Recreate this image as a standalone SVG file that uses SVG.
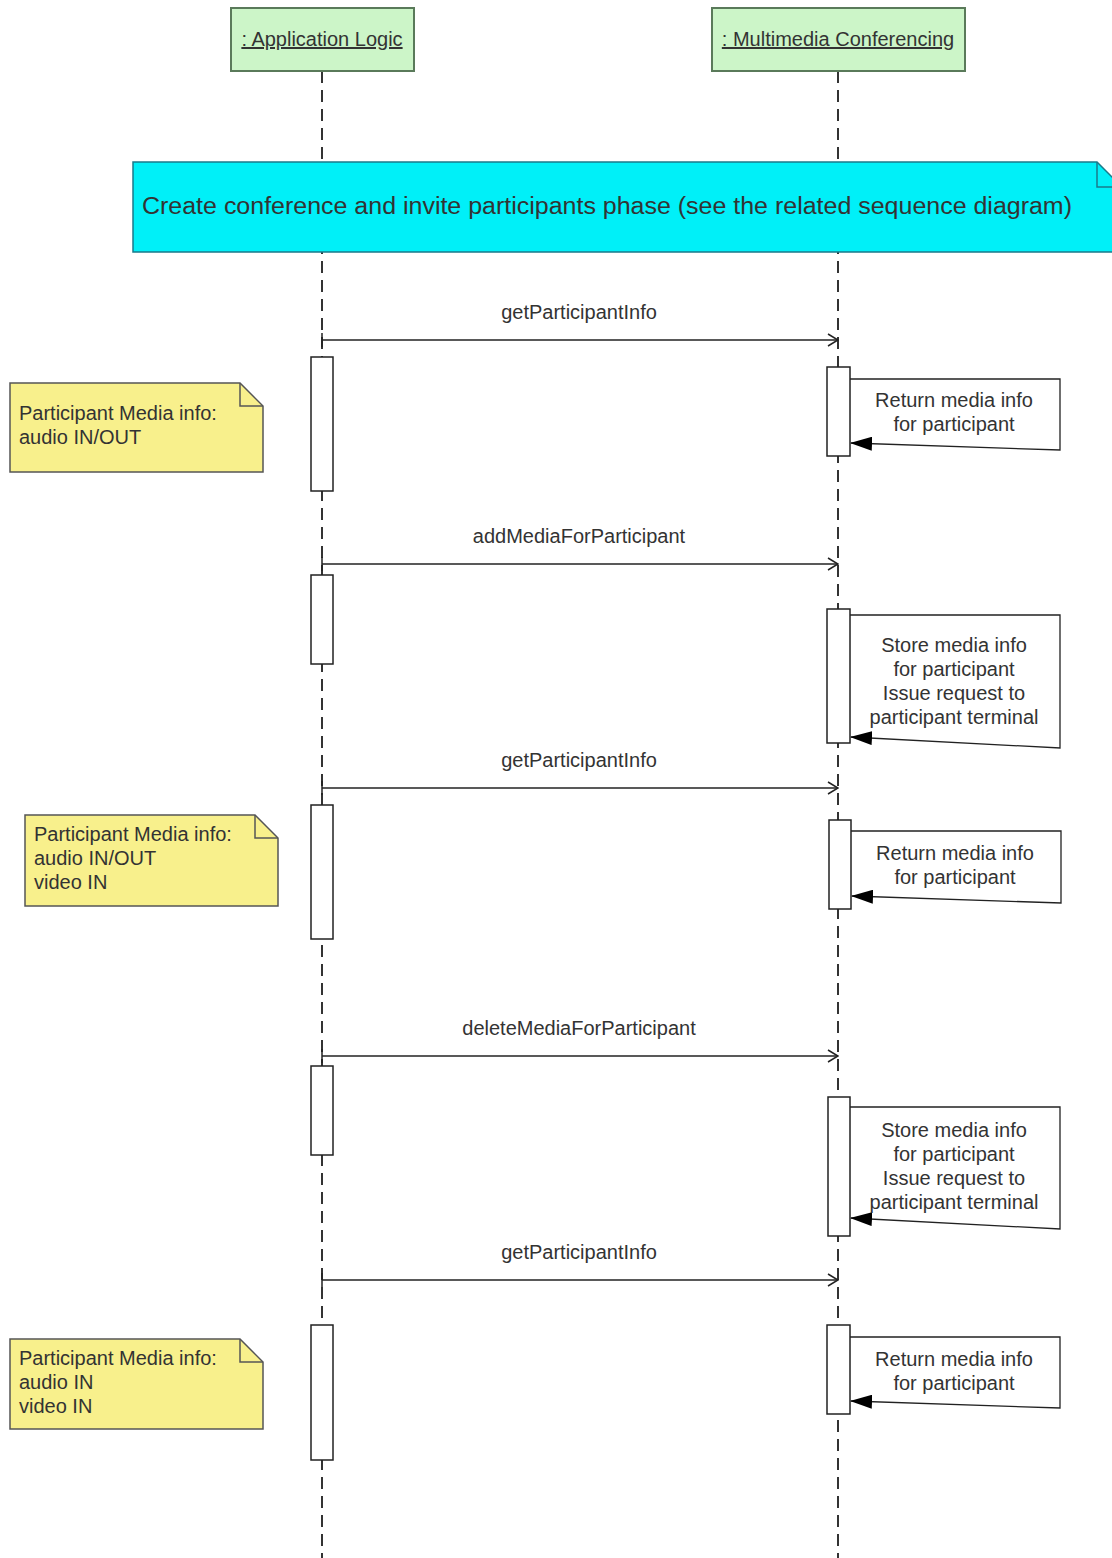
<svg xmlns="http://www.w3.org/2000/svg" width="1112" height="1558" viewBox="0 0 1112 1558">
<style>
text{font-family:"Liberation Sans",Arial,sans-serif;fill:#333}
.hdr{fill:#ccf5c8;stroke:#5a7a5a;stroke-width:2}
.hdrt{font-size:20px;text-decoration:underline}
.life{stroke:#333;stroke-width:2;stroke-dasharray:12 7;fill:none}
.act{fill:#fff;stroke:#222;stroke-width:1.5}
.msg{stroke:#222;stroke-width:1.5;fill:none}
.lbl{font-size:20px;text-anchor:middle}
.note{fill:#f8f08c;stroke:#555;stroke-width:1.5}
.notet{font-size:20px}
.loop{stroke:#222;stroke-width:1.3;fill:none}
.lt{font-size:20px;text-anchor:middle}
</style>
<defs>
<marker id="open" viewBox="0 0 12 14" refX="11" refY="7" markerWidth="12" markerHeight="14" markerUnits="userSpaceOnUse" orient="auto">
<path d="M1,1 L11,7 L1,13" fill="none" stroke="#222" stroke-width="1.5"/>
</marker>
<marker id="filled" viewBox="0 0 22 14" refX="21" refY="7" markerWidth="22" markerHeight="14" markerUnits="userSpaceOnUse" orient="auto">
<path d="M0,0 L22,7 L0,14 Z" fill="#000"/>
</marker>
</defs>

<g id="lifelines">
<line class="life" x1="322" y1="71" x2="322" y2="1558"/>
<line class="life" x1="838" y1="71" x2="838" y2="1558"/>
</g>

<g id="app-logic">
<rect class="hdr" x="231" y="8" width="183" height="63"/>
<text class="hdrt" x="322" y="46" text-anchor="middle">: Application Logic</text>
</g>
<g id="multimedia-conferencing">
<rect class="hdr" x="712" y="8" width="253" height="63"/>
<text class="hdrt" x="838" y="46" text-anchor="middle">: Multimedia Conferencing</text>
</g>

<g id="phase-note">
<path d="M133,162 L1097,162 L1122,187 L1122,252 L133,252 Z" fill="#00f0f8" stroke="#1a7a8a" stroke-width="1.5"/>
<path d="M1097,162 L1097,187 L1122,187" fill="none" stroke="#1a7a8a" stroke-width="1.5"/>
<text x="142" y="214" font-size="23px" textLength="930" lengthAdjust="spacingAndGlyphs">Create conference and invite participants phase (see the related sequence diagram)</text>
</g>

<g id="note1">
<path class="note" d="M10,383 L240,383 L263,406 L263,472 L10,472 Z"/>
<path d="M240,383 L240,406 L263,406" fill="none" stroke="#555" stroke-width="1.5"/>
<text class="notet" x="19" y="420">Participant Media info:</text>
<text class="notet" x="19" y="444">audio IN/OUT</text>
</g>
<g id="note2">
<path class="note" d="M25,815 L255,815 L278,838 L278,906 L25,906 Z"/>
<path d="M255,815 L255,838 L278,838" fill="none" stroke="#555" stroke-width="1.5"/>
<text class="notet" x="34" y="841">Participant Media info:</text>
<text class="notet" x="34" y="865">audio IN/OUT</text>
<text class="notet" x="34" y="889">video IN</text>
</g>
<g id="note3">
<path class="note" d="M10,1339 L240,1339 L263,1362 L263,1429 L10,1429 Z"/>
<path d="M240,1339 L240,1362 L263,1362" fill="none" stroke="#555" stroke-width="1.5"/>
<text class="notet" x="19" y="1365">Participant Media info:</text>
<text class="notet" x="19" y="1389">audio IN</text>
<text class="notet" x="19" y="1413">video IN</text>
</g>

<g id="activations">
<rect class="act" x="311" y="357" width="22" height="134"/>
<rect class="act" x="827" y="367" width="23" height="89"/>
<rect class="act" x="311" y="575" width="22" height="89"/>
<rect class="act" x="827" y="609" width="23" height="134"/>
<rect class="act" x="311" y="805" width="22" height="134"/>
<rect class="act" x="829" y="820" width="22" height="89"/>
<rect class="act" x="311" y="1066" width="22" height="89"/>
<rect class="act" x="828" y="1097" width="22" height="139"/>
<rect class="act" x="311" y="1325" width="22" height="135"/>
<rect class="act" x="827" y="1325" width="23" height="89"/>
</g>

<g id="connectors">
<line class="msg" x1="322" y1="340" x2="838" y2="340" marker-end="url(#open)"/>
<line class="msg" x1="322" y1="333" x2="322" y2="347"/>
<line class="msg" x1="322" y1="564" x2="838" y2="564" marker-end="url(#open)"/>
<line class="msg" x1="322" y1="557" x2="322" y2="571"/>
<line class="msg" x1="322" y1="788" x2="838" y2="788" marker-end="url(#open)"/>
<line class="msg" x1="322" y1="781" x2="322" y2="795"/>
<line class="msg" x1="322" y1="1056" x2="838" y2="1056" marker-end="url(#open)"/>
<line class="msg" x1="322" y1="1049" x2="322" y2="1063"/>
<line class="msg" x1="322" y1="1280" x2="838" y2="1280" marker-end="url(#open)"/>
<line class="msg" x1="322" y1="1273" x2="322" y2="1287"/>

<path class="loop" d="M850,379 L1060,379 L1060,450 L851,443" marker-end="url(#filled)"/>
<path class="loop" d="M850,615 L1060,615 L1060,748 L851,737" marker-end="url(#filled)"/>
<path class="loop" d="M851,831 L1061,831 L1061,903 L852,896" marker-end="url(#filled)"/>
<path class="loop" d="M850,1107 L1060,1107 L1060,1229 L851,1218" marker-end="url(#filled)"/>
<path class="loop" d="M850,1337 L1060,1337 L1060,1408 L851,1401" marker-end="url(#filled)"/>
</g>

<g id="labels">
<text class="lbl" x="579" y="319">getParticipantInfo</text>
<text class="lbl" x="579" y="543">addMediaForParticipant</text>
<text class="lbl" x="579" y="767">getParticipantInfo</text>
<text class="lbl" x="579" y="1035">deleteMediaForParticipant</text>
<text class="lbl" x="579" y="1259">getParticipantInfo</text>

<text class="lt" x="954" y="407">Return media info</text>
<text class="lt" x="954" y="431">for participant</text>
<text class="lt" x="954" y="652">Store media info</text>
<text class="lt" x="954" y="676">for participant</text>
<text class="lt" x="954" y="700">Issue request to</text>
<text class="lt" x="954" y="724">participant terminal</text>
<text class="lt" x="955" y="860">Return media info</text>
<text class="lt" x="955" y="884">for participant</text>
<text class="lt" x="954" y="1137">Store media info</text>
<text class="lt" x="954" y="1161">for participant</text>
<text class="lt" x="954" y="1185">Issue request to</text>
<text class="lt" x="954" y="1209">participant terminal</text>
<text class="lt" x="954" y="1366">Return media info</text>
<text class="lt" x="954" y="1390">for participant</text>
</g>
</svg>
